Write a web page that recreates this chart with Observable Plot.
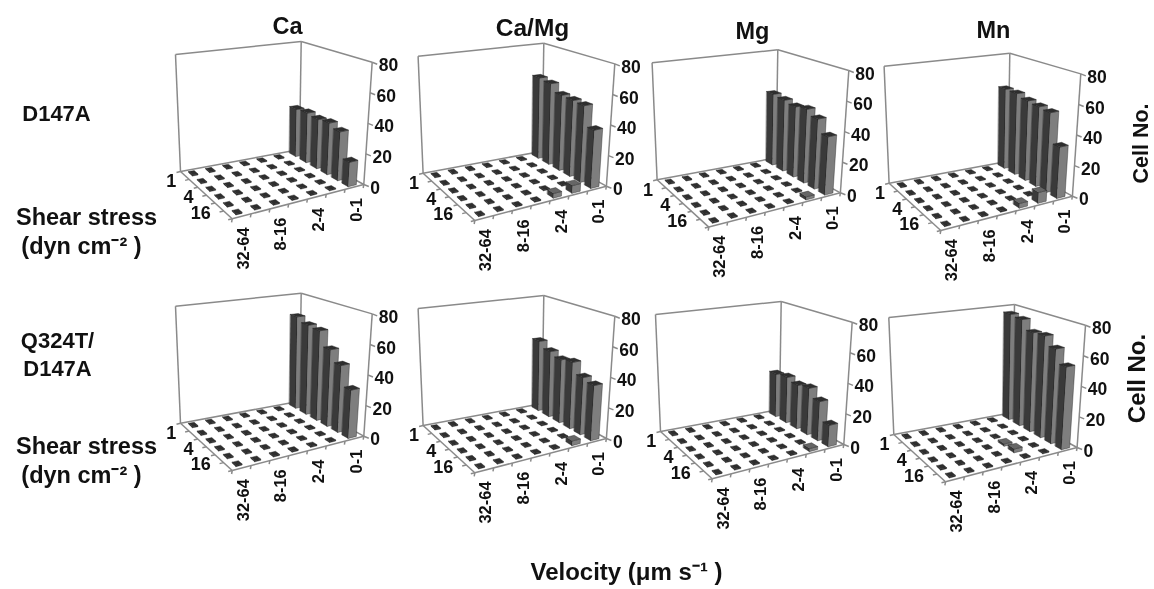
<!DOCTYPE html>
<html><head><meta charset="utf-8">
<script src="https://cdn.jsdelivr.net/npm/d3@7"></script>
<script src="https://cdn.jsdelivr.net/npm/@observablehq/plot@0.6"></script>
<style>html,body{margin:0;padding:0;background:#fff}svg{display:block;filter:blur(0.45px)}</style>
</head><body><div id="chart"></div>
<script>
// ---- data (cell number) ----
const velocityBins = ["32-64","16-32","8-16","4-8","2-4","1-2","0-1"];
const shearLevels = ["1","2","4","8","16","32"];
const cellTicks = [0,20,40,60,80];
const ions = ["Ca","Ca/Mg","Mg","Mn"];
// bars at velocity 0-1, one value per shear stress level
const d147a_Ca   = [34,35,34,35,32.5,16];
const d147a_CaMg = [58,57,52,51.5,51,38];
const d147a_Mg   = [51,50,48.5,50,46.5,38];
const d147a_Mn   = [57,57,55,54,53,33.5];
const q324t_Ca   = [66,63,62,52,44.5,31.5];
const q324t_CaMg = [50,46,43.5,45,38,36];
const q324t_Mg   = [30.5,32,30,31.5,26,14];
const q324t_Mn   = [76,75,68.5,69,63,54];
const baseCount = 0.7;
// other non-empty cells: [velocity index, shear index, count]
const d147a_CaMg_low = [[5,5,5],[4,5,3]];
const d147a_Mg_low   = [[5,5,2]];
const d147a_Mn_low   = [[5,5,7],[4,5,3]];
const q324t_CaMg_low = [[5,5,3]];
const q324t_Mg_low   = [[5,5,2]];
const q324t_Mn_low   = [[4,4,2.5],[4,3,1.5]];

// ---- layout ----
const shape = {L:[180,171],B:[299,149],R:[363.3,184],F:[231.7,218.3],
               TL:[175,54],TB:[300.7,41],TR:[371.7,61.7],TF:[233.7,87]};
const panels = [
  {dx:0,    dy:0,    v:d147a_Ca,   low:[]},
  {dx:242.6,dy:1.7,  v:d147a_CaMg, low:d147a_CaMg_low},
  {dx:476.6,dy:8.3,  v:d147a_Mg,   low:d147a_Mg_low},
  {dx:708.6,dy:11.7, v:d147a_Mn,   low:d147a_Mn_low},
  {dx:0,    dy:251.7,v:q324t_Ca,   low:[]},
  {dx:242.6,dy:254,  v:q324t_CaMg, low:q324t_CaMg_low},
  {dx:480,  dy:260,  v:q324t_Mg,   low:q324t_Mg_low},
  {dx:713.3,dy:263,  v:q324t_Mn,   low:q324t_Mn_low}
];
const mix=(a,b,t)=>[a[0]+(b[0]-a[0])*t,a[1]+(b[1]-a[1])*t];
const quad=(a,b,c,d,u,v)=>mix(mix(a,b,u),mix(d,c,u),v);
function proj(p,u,v,w){
  const s=shape;
  const f=quad(s.L,s.B,s.R,s.F,u,v), t=quad(s.TL,s.TB,s.TR,s.TF,u,v), q=mix(f,t,w/80);
  return [q[0]+p.dx,q[1]+p.dy];
}
const polys=[], links=[], labels=[];
const addPoly=(id,fill,pts)=>pts.forEach(q=>polys.push({id,fill,x:q[0],y:q[1]}));
const nU=velocityBins.length,nV=shearLevels.length;
panels.forEach((p,pi)=>{
  const frame=[[[0,0,80],[1,0,80]],[[1,0,80],[1,1,80]],[[0,0,80],[0,0,0]],[[1,0,80],[1,0,0]],[[1,1,80],[1,1,0]],
               [[0,0,0],[1,0,0]],[[1,0,0],[1,1,0]],[[1,1,0],[0,1,0]],[[0,1,0],[0,0,0]]];
  frame.forEach(([a,b])=>{const A=proj(p,...a),B=proj(p,...b);links.push({x1:A[0],y1:A[1],x2:B[0],y2:B[1]});});
  // ticks
  for(let i=0;i<=nU;i++){const A=proj(p,i/nU,1,0);links.push({x1:A[0],y1:A[1],x2:A[0]-0.6,y2:A[1]+3.5});}
  for(let j=0;j<=nV;j++){const A=proj(p,0,j/nV,0);links.push({x1:A[0],y1:A[1],x2:A[0]-4,y2:A[1]+1});}
  cellTicks.forEach(t=>{
    const A=proj(p,1,1,t);links.push({x1:A[0],y1:A[1],x2:A[0]+5,y2:A[1]+2});
    labels.push({x:A[0]+6.5,y:A[1]+3.5,t:String(t),a:"start",r:0,s:17.5});
  });
  velocityBins.forEach((b,i)=>{ if(i%2==0){
    const A=proj(p,(i+.5)/nU,1,0);labels.push({x:A[0]+2,y:A[1]+11,t:b,a:"end",r:-90,s:16.5});}});
  shearLevels.forEach((b,j)=>{ if(j%2==0){
    const A=proj(p,0,(j+.5)/nV,0);labels.push({x:A[0]-8.5,y:A[1]+6,t:b,a:"end",r:0,s:18});}});
  // bars, far to near
  for(let i=nU-1;i>=0;i--)for(let j=0;j<nV;j++){
    let val=baseCount;
    if(i==nU-1)val=p.v[j];
    const hit=p.low.find(c=>c[0]==i&&c[1]==j); if(hit)val=hit[2];
    const u=(i+.5)/nU,v=(j+.5)/nV,id=`${pi}-${i}-${j}`;
    const tall=val>1;
    const hu=tall?0.031:0.023, hv=tall?0.05:0.036;
    const c=(a,b,w)=>proj(p,u+a*hu,v+b*hv,w);
    addPoly(id+"l",tall?"#3a3a3a":"#2e2e2e",[c(-1,-1,0),c(-1,1,0),c(-1,1,val),c(-1,-1,val)]);
    addPoly(id+"r",tall?"#7e7e7e":"#333",[c(-1,1,0),c(1,1,0),c(1,1,val),c(-1,1,val)]);
    addPoly(id+"t",tall&&val<10?"#666":"#2e2e2e",[c(-1,-1,val),c(1,-1,val),c(1,1,val),c(-1,1,val)]);
  }
});
const T=23.5;
const texts=[
  {x:287,y:26,t:ions[0],a:"middle",r:0,s:T},{x:532,y:28,t:ions[1],a:"middle",r:0,s:24.5},
  {x:752,y:31,t:ions[2],a:"middle",r:0,s:T},{x:993,y:30,t:ions[3],a:"middle",r:0,s:T},
  {x:56,y:113,t:"D147A",a:"middle",r:0,s:22},{x:57,y:340,t:"Q324T/",a:"middle",r:0,s:22},{x:57,y:368,t:"D147A",a:"middle",r:0,s:22},
  {x:86,y:217,t:"Shear stress",a:"middle",r:0,s:23.5},{x:81,y:246,t:"(dyn cm⁻² )",a:"middle",r:0,s:23.5},
  {x:86,y:446,t:"Shear stress",a:"middle",r:0,s:23.5},{x:81,y:475,t:"(dyn cm⁻² )",a:"middle",r:0,s:23.5},
  {x:1141,y:143,t:"Cell No.",a:"middle",r:-90,s:21.5},{x:1137,y:378,t:"Cell No.",a:"middle",r:-90,s:24},
  {x:626,y:572,t:"Velocity (μm s⁻¹ )",a:"middle",r:0,s:24}
];
const textMark=(data,a)=>Plot.text(data.filter(d=>d.a==a),{x:"x",y:"y",text:"t",textAnchor:a,rotate:"r",fontSize:"s",fontWeight:"bold",fontFamily:"Liberation Sans, Arial, sans-serif",fill:"#111"});
const chart=Plot.plot({
  width:1154,height:589,margin:0,
  x:{domain:[0,1154],range:[0,1154],axis:null},
  y:{domain:[0,589],range:[0,589],axis:null},
  color:{type:"identity"},
  style:{background:"#fff"},
  marks:[
    Plot.link(links,{x1:"x1",y1:"y1",x2:"x2",y2:"y2",stroke:"#8a8a8a",strokeWidth:1.5}),
    Plot.line(polys,{x:"x",y:"y",z:"id",fill:"fill",stroke:"#222",strokeWidth:0.4,curve:"linear-closed"}),
    ...["start","middle","end"].map(a=>textMark(labels.concat(texts),a))
  ]
});
document.getElementById("chart").appendChild(chart);
</script></body></html>
